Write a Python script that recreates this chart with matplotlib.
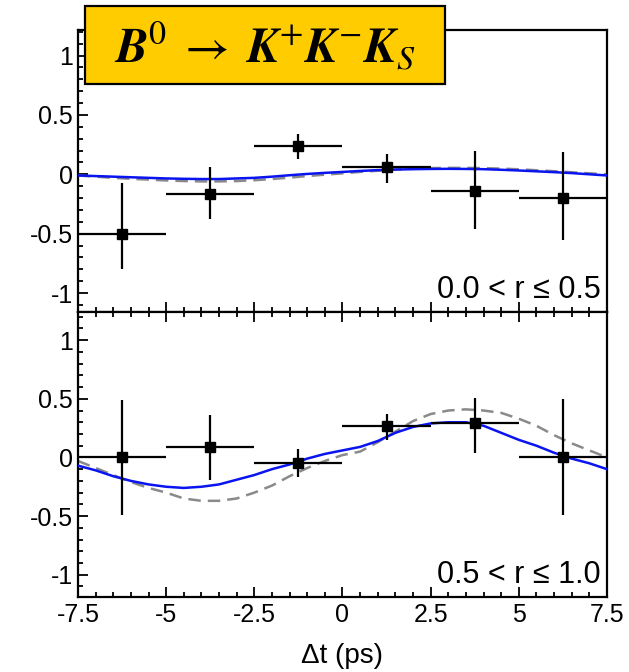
import numpy as np
import matplotlib
matplotlib.use('Agg')
import matplotlib.pyplot as plt
from matplotlib.ticker import MultipleLocator
from matplotlib.patches import Rectangle

plt.rcParams['font.family'] = ['Liberation Sans', 'DejaVu Sans']
plt.rcParams['mathtext.fontset'] = 'stix'

# bin centres and half widths (ps)
dt = [-6.25, -3.75, -1.25, 1.25, 3.75, 6.25]
dt_err = [1.25, 1.25, 1.25, 1.25, 1.25, 1.25]

# asymmetry points, 0.0 < r <= 0.5
asym_lo = [-0.50, -0.17, 0.24, 0.06, -0.14, -0.20]
asym_lo_up = [0.43, 0.23, 0.10, 0.11, 0.34, 0.39]
asym_lo_dn = [0.30, 0.21, 0.11, 0.13, 0.32, 0.35]

# asymmetry points, 0.5 < r <= 1.0
asym_hi = [0.00, 0.09, -0.05, 0.27, 0.29, 0.00]
asym_hi_up = [0.49, 0.27, 0.12, 0.10, 0.22, 0.50]
asym_hi_dn = [0.49, 0.28, 0.12, 0.12, 0.25, 0.49]

# fit curves every 0.5 ps
t_curve = [-7.5, -7.0, -6.5, -6.0, -5.5, -5.0, -4.5, -4.0, -3.5, -3.0, -2.5,
           -2.0, -1.5, -1.0, -0.5, 0.0, 0.5, 1.0, 1.5, 2.0, 2.5, 3.0, 3.5,
           4.0, 4.5, 5.0, 5.5, 6.0, 6.5, 7.0, 7.5]
fit_lo = [-0.010, -0.015, -0.020, -0.025, -0.030, -0.035, -0.038, -0.040,
          -0.040, -0.035, -0.030, -0.020, -0.008, 0.003, 0.012, 0.020, 0.028,
          0.035, 0.040, 0.043, 0.045, 0.046, 0.045, 0.043, 0.038, 0.032,
          0.025, 0.018, 0.010, 0.000, -0.010]
dash_lo = [-0.010, -0.020, -0.030, -0.038, -0.045, -0.052, -0.057, -0.060,
           -0.060, -0.057, -0.050, -0.040, -0.028, -0.015, -0.003, 0.008,
           0.020, 0.030, 0.040, 0.047, 0.052, 0.054, 0.054, 0.052, 0.048,
           0.042, 0.034, 0.026, 0.017, 0.008, 0.000]
fit_hi = [-0.07, -0.11, -0.16, -0.20, -0.23, -0.25, -0.26, -0.25, -0.23,
          -0.19, -0.15, -0.10, -0.06, -0.01, 0.03, 0.06, 0.09, 0.14, 0.21,
          0.26, 0.29, 0.30, 0.30, 0.27, 0.21, 0.15, 0.10, 0.04, -0.01, -0.05,
          -0.10]
dash_hi = [-0.03, -0.09, -0.15, -0.21, -0.26, -0.30, -0.35, -0.37, -0.37,
           -0.35, -0.30, -0.24, -0.16, -0.09, -0.03, 0.02, 0.05, 0.13, 0.22,
           0.31, 0.37, 0.40, 0.41, 0.40, 0.38, 0.33, 0.27, 0.19, 0.12, 0.06,
           0.00]

fig = plt.figure(figsize=(6.29, 6.72), dpi=100)
ax1 = fig.add_axes([0.124, 0.5357, 0.841, 0.4196])
ax2 = fig.add_axes([0.124, 0.1116, 0.841, 0.4241])


def draw(ax, y, up, dn, fit, dash, label, ylim, top_ticks):
    ax.plot(t_curve, dash, color='#8a8a8a', lw=1.8, dashes=(5, 2.8), zorder=2)
    ax.plot(t_curve, fit, color='#0a14f0', lw=1.8, zorder=3)
    ax.errorbar(dt, y, xerr=dt_err, yerr=[dn, up], fmt='s', color='black',
                ms=7, elinewidth=1.6, capsize=0, zorder=4)
    ax.set_xlim(-7.5, 7.5)
    ax.set_ylim(*ylim)
    ax.xaxis.set_major_locator(MultipleLocator(2.5))
    ax.xaxis.set_minor_locator(MultipleLocator(0.5))
    ax.yaxis.set_major_locator(MultipleLocator(0.5))
    ax.yaxis.set_minor_locator(MultipleLocator(0.1))
    ax.tick_params(which='both', direction='in', top=top_ticks, right=False,
                   width=1.3, labelsize=18)
    ax.tick_params(which='major', length=7)
    ax.tick_params(which='minor', length=3.5)
    ax.set_yticks([-1, -0.5, 0, 0.5, 1])
    ax.set_yticklabels(['-1', '-0.5', '0', '0.5', '1'])
    for s in ax.spines.values():
        s.set_linewidth(1.6)
    ax.text(0.988, 0.025, label, transform=ax.transAxes, ha='right',
            va='bottom', fontsize=22)


draw(ax1, asym_lo, asym_lo_up, asym_lo_dn, fit_lo, dash_lo,
     '0.0 < r ≤ 0.5', (-1.16, 1.215), False)
ax1.set_xticklabels([])

draw(ax2, asym_hi, asym_hi_up, asym_hi_dn, fit_hi, dash_hi,
     '0.5 < r ≤ 1.0', (-1.19, 1.24), True)
ax2.set_xticks([-7.5, -5, -2.5, 0, 2.5, 5, 7.5])
ax2.set_xticklabels(['-7.5', '-5', '-2.5', '0', '2.5', '5', '7.5'])
ax2.tick_params(axis='x', pad=4)
ax2.set_xlabel('Δt (ps)', fontsize=20, labelpad=12)

# title box
fig.patches.append(Rectangle((0.135, 0.875), 0.5725, 0.116,
                             transform=fig.transFigure, facecolor='#ffcc00',
                             edgecolor='black', linewidth=1.6, zorder=9))
fig.text(0.4213, 0.931,
         r'$\mathbfit{B}^{0}\;\rightarrow\;\mathbfit{K}^{+}\mathbfit{K}^{-}\mathbfit{K}_{S}$',
         ha='center', va='center', fontsize=35, zorder=10)

fig.savefig('out.png', dpi=100)
